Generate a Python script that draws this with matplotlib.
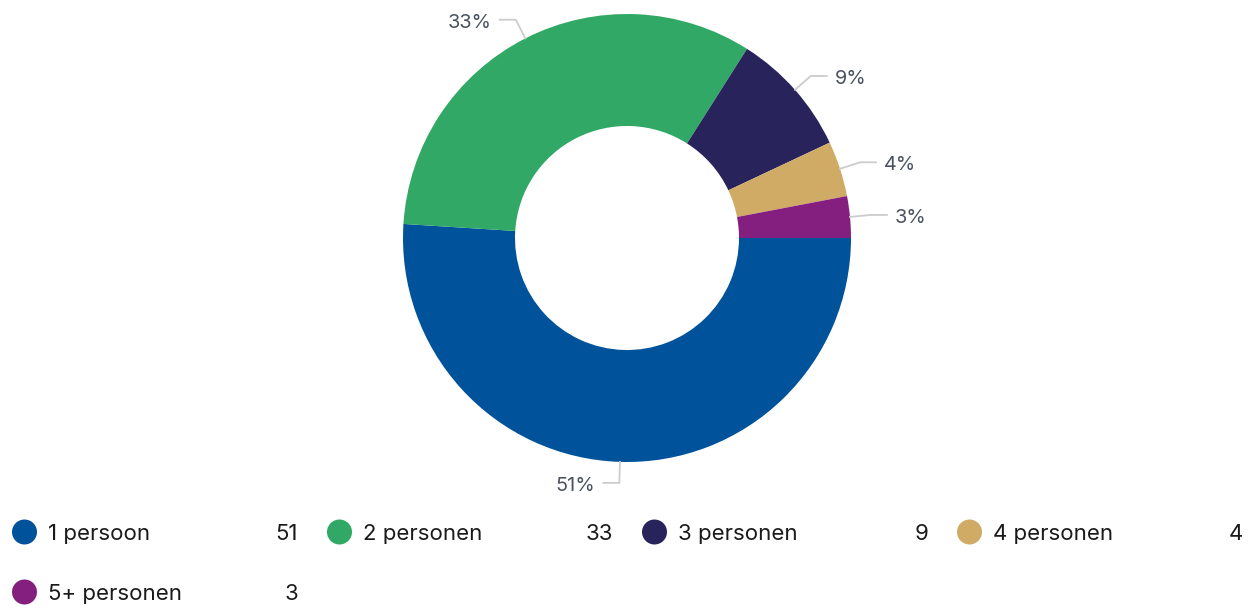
import numpy as np
import matplotlib
matplotlib.use('Agg')
import matplotlib.pyplot as plt
from matplotlib.patches import Circle

labels = ['1 persoon', '2 personen', '3 personen', '4 personen', '5+ personen']
values = [51, 33, 9, 4, 3]
colors = ['#00529b', '#31a865', '#29235c', '#cfab66', '#841f80']

plt.rcParams['font.family'] = ['Inter', 'DejaVu Sans']

W, H = 1252, 608
fig = plt.figure(figsize=(W / 100, H / 100), dpi=100)
ax = fig.add_axes([0, 0, 1, 1])

# donut, pixel-like coordinates (y up)
cx, cy, r = 627, H - 238, 224
ax.pie(values, colors=colors, startangle=0, counterclock=False,
       center=(cx, cy), radius=r, frame=True,
       wedgeprops=dict(width=112, linewidth=0))

# percentage labels with elbow leader lines
total = sum(values)
start = 0.0
for v in values:
    frac = v / total
    mid = -(start + frac / 2) * 360.0
    start += frac
    a = np.deg2rad(mid)
    x0, y0 = cx + r * np.cos(a), cy + r * np.sin(a)
    x1, y1 = cx + (r + 21) * np.cos(a), cy + (r + 21) * np.sin(a)
    side = 1 if np.cos(a) >= 0 else -1
    x2 = x1 + side * 16
    ax.plot([x0, x1, x2], [y0, y1, y1], color='#cccccc', lw=1.3,
            solid_joinstyle='miter')
    ax.text(x2 + side * 8, y1 - 3, f'{round(frac * 100)}%', fontsize=14.3,
            color='#4a5160', ha='left' if side > 0 else 'right', va='center')

# legend
col_x = [24.5, 339.5, 654.5, 969.5]
row_y = [H - 532, H - 592]
for i, (lab, v, c) in enumerate(zip(labels, values, colors)):
    x = col_x[i % 4]
    y = row_y[i // 4]
    ax.add_patch(Circle((x, y), 12.5, color=c, lw=0))
    ax.text(x + 23.5, y - 2, lab, fontsize=16, color='#1a1a1a', va='center', ha='left')
    ax.text(x + 273.5, y - 2, str(v), fontsize=16, color='#1a1a1a', va='center', ha='right')

ax.set_xlim(0, W)
ax.set_ylim(0, H)
ax.set_aspect('equal')
ax.axis('off')

fig.savefig('out.png', dpi=100, facecolor='white')
